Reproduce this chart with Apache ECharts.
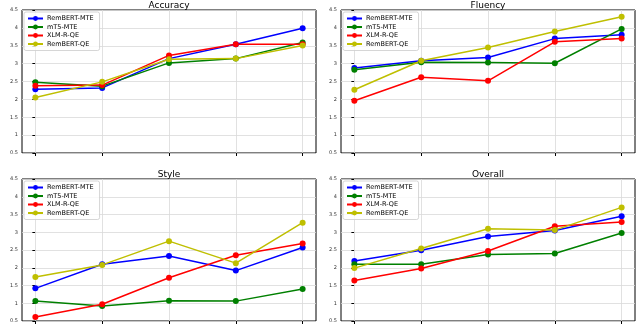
<!DOCTYPE html>
<html>
<head>
<meta charset="utf-8">
<script src="https://cdn.jsdelivr.net/npm/echarts@6/dist/echarts.min.js"></script>
<style>
  html, body { margin: 0; padding: 0; background: #fff; }
  #chart { width: 640px; height: 329px; }
</style>
</head>
<body>
<div id="chart"></div>
<script>
const panels = ['Accuracy', 'Fluency', 'Style', 'Overall']
const systems = ['RemBERT-MTE', 'mT5-MTE', 'XLM-R-QE', 'RemBERT-QE']
const colors = ['#0000ff', '#008000', '#ff0000', '#bfbf00']
const xPositions = [0, 1, 2, 3, 4]

// scores per panel, one row per system
const accuracy = [
  [2.28, 2.32, 3.14, 3.54, 3.99],
  [2.48, 2.37, 3.02, 3.14, 3.59],
  [2.38, 2.40, 3.23, 3.54, 3.54],
  [2.05, 2.49, 3.12, 3.14, 3.51]
]
const fluency = [
  [2.88, 3.08, 3.17, 3.70, 3.81],
  [2.83, 3.04, 3.03, 3.01, 3.97],
  [1.96, 2.62, 2.52, 3.61, 3.70],
  [2.27, 3.08, 3.45, 3.90, 4.31]
]
const style = [
  [1.42, 2.10, 2.33, 1.92, 2.57],
  [1.06, 0.92, 1.07, 1.06, 1.40],
  [0.61, 0.97, 1.72, 2.35, 2.68],
  [1.74, 2.08, 2.75, 2.13, 3.27]
]
const overall = [
  [2.19, 2.49, 2.88, 3.05, 3.45],
  [2.10, 2.10, 2.37, 2.40, 2.98],
  [1.64, 1.98, 2.47, 3.17, 3.29],
  [1.99, 2.54, 3.10, 3.06, 3.70]
]

const panelData = [accuracy, fluency, style, overall]
const boxes = [
  { left: 22, top: 10, width: 294, height: 143 },
  { left: 341, top: 10, width: 294, height: 143 },
  { left: 22, top: 179, width: 294, height: 142 },
  { left: 341, top: 179, width: 294, height: 142 }
]

const chart = echarts.init(document.getElementById('chart'))

const grid = [], xAxis = [], yAxis = [], title = [], legend = [], series = []

panels.forEach((name, p) => {
  const b = boxes[p]
  grid.push({ ...b, show: true, borderColor: '#000', borderWidth: 1, backgroundColor: '#fff' })
  title.push({
    text: name,
    left: b.left + b.width / 2,
    top: b.top - 9,
    padding: 0,
    textAlign: 'center',
    textStyle: { fontSize: 9, lineHeight: 10, fontWeight: 'normal', color: '#000', fontFamily: 'DejaVu Sans' }
  })
  xAxis.push({
    type: 'value', gridIndex: p, min: -0.2, max: 4.2,
    axisLine: { show: false },
    splitLine: { show: false },
    axisTick: { show: true, length: 3, customValues: xPositions, lineStyle: { color: '#000' } },
    axisLabel: { show: false }
  })
  yAxis.push({
    type: 'value', gridIndex: p, min: 0.5, max: 4.5, interval: 0.5,
    axisLine: { show: false },
    axisTick: { show: true, length: 3, lineStyle: { color: '#000' } },
    axisLabel: { fontSize: 5, color: '#333', margin: 4, fontFamily: 'DejaVu Sans' },
    splitLine: { show: true, lineStyle: { color: '#d9d9d9', width: 0.8 } }
  })
  legend.push({
    data: systems,
    orient: 'vertical',
    left: b.left + 2,
    top: b.top + 2,
    itemGap: 1.5,
    itemWidth: 15,
    itemHeight: 6,
    padding: [3, 6, 3, 3],
    backgroundColor: 'rgba(255,255,255,0.8)',
    borderColor: '#cccccc',
    borderWidth: 0.8,
    borderRadius: 2,
    textStyle: { fontSize: 6.5, color: '#000', fontFamily: 'DejaVu Sans', padding: [0, 0, 0, -1] }
  })
  panelData[p].forEach((vals, s) => {
    series.push({
      name: systems[s],
      type: 'line',
      xAxisIndex: p,
      yAxisIndex: p,
      data: vals.map((v, i) => [xPositions[i], v]),
      symbol: 'circle',
      symbolSize: 6,
      color: colors[s],
      lineStyle: { width: 1.5, color: colors[s] },
      itemStyle: { color: colors[s] },
      z: 3,
      animation: false,
      markLine: s === 0 ? {
        silent: true,
        symbol: 'none',
        label: { show: false },
        lineStyle: { color: '#d9d9d9', width: 0.8, type: 'solid' },
        data: xPositions.map(x => ({ xAxis: x })),
        z: 1,
        animation: false
      } : undefined
    })
  })
})

chart.setOption({
  animation: false,
  title, grid, xAxis, yAxis, legend, series
})

window.addEventListener('resize', () => chart.resize())
</script>
</body>
</html>
